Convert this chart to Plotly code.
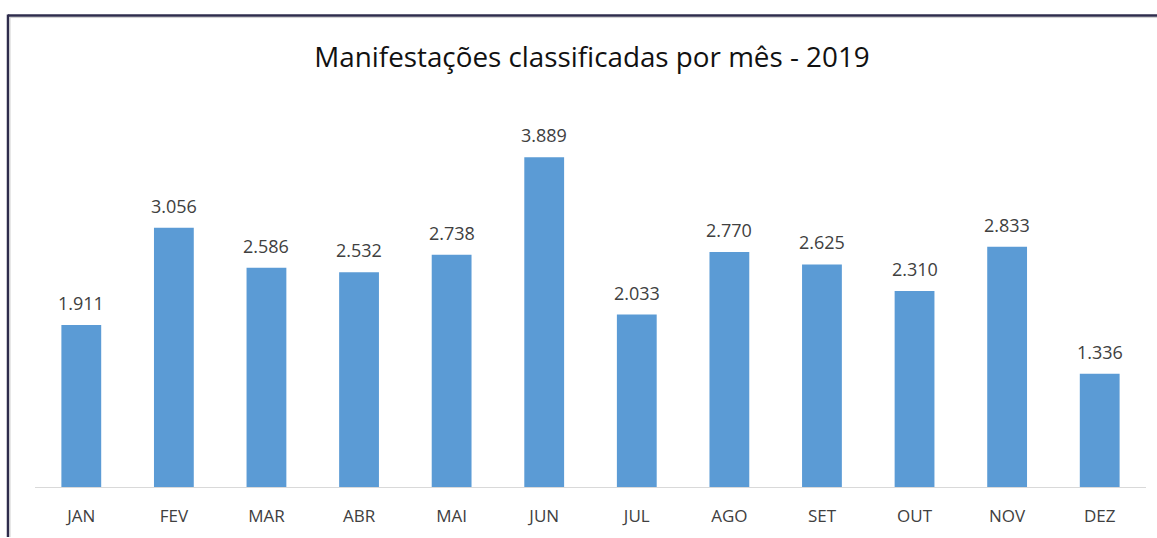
import plotly.graph_objects as go

months = ["JAN", "FEV", "MAR", "ABR", "MAI", "JUN", "JUL", "AGO", "SET", "OUT", "NOV", "DEZ"]
values = [1911, 3056, 2586, 2532, 2738, 3889, 2033, 2770, 2625, 2310, 2833, 1336]

W, H = 1157, 538
L, R, T, B = 35, 11, 103, 44
pw, ph = W - L - R, H - T - B

def px(x):
    return (x - L) / pw

def py(y):
    return (H - B - y) / ph

fig = go.Figure(go.Bar(
    x=months, y=values,
    marker=dict(color="#5b9bd5", line=dict(width=0)),
    hoverinfo="x+y",
))

for m, v in zip(months, values):
    fig.add_annotation(
        x=m, y=v, xref="x", yref="y",
        text=f"{v:,}".replace(",", "."),
        showarrow=False, yanchor="middle", yshift=22,
        font=dict(family="Open Sans", size=18, color="#404040"),
    )

fig.update_layout(
    width=W, height=H,
    margin=dict(l=L, r=R, t=T, b=B),
    paper_bgcolor="white", plot_bgcolor="white",
    separators=",.",
    bargap=0.57,
    showlegend=False,
    title=dict(text="Manifestações classificadas por mês - 2019",
               x=px(592), xref="paper", xanchor="center",
               y=1 - 57 / H, yanchor="middle",
               font=dict(family="Open Sans", size=27.8, color="#111111")),
    xaxis=dict(showline=True, linecolor="#d9d9d9", linewidth=1,
               ticks="", showgrid=False, ticklabelstandoff=14,
               tickfont=dict(family="Open Sans", size=17, color="#404040")),
    yaxis=dict(range=[0, 4528], visible=False, showgrid=False),
    shapes=[
        dict(type="line", xref="paper", yref="paper",
             x0=px(8), x1=px(1160), y0=py(14), y1=py(14),
             line=dict(color="#2e2c4c", width=2.5)),
        dict(type="line", xref="paper", yref="paper",
             x0=px(8), x1=px(8), y0=py(13), y1=py(545),
             line=dict(color="#2e2c4c", width=2.5)),
        dict(type="line", xref="paper", yref="paper",
             x0=px(10), x1=px(1160), y0=py(16), y1=py(16),
             line=dict(color="#d0d0d0", width=1)),
        dict(type="line", xref="paper", yref="paper",
             x0=px(10), x1=px(10), y0=py(16), y1=py(545),
             line=dict(color="#d0d0d0", width=1)),
    ],
)

fig.write_html("out.html", config={"displayModeBar": False},
               post_script="document.body.style.margin='0';document.body.style.overflow='hidden';")
